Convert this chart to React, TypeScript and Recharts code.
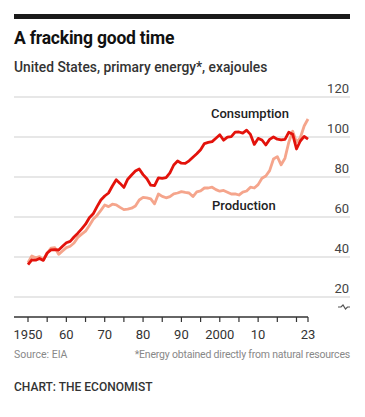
import { LineChart, Line, XAxis, YAxis, ReferenceLine } from "recharts";

// annual values, exajoules, 1950-2023
const firstYear = 1950;

const consumption = [
  36.2, 38.6, 38.4, 39.3, 38.3, 42.0, 43.6, 43.7, 43.5, 45.4,
  47.1, 47.8, 50.0, 51.9, 54.1, 56.4, 59.6, 61.6, 65.2, 68.5,
  70.5, 72.0, 75.5, 78.6, 76.8, 74.8, 78.9, 81.0, 83.0, 84.0,
  81.2, 79.1, 75.9, 75.7, 79.6, 79.3, 79.7, 82.1, 86.0, 88.0,
  86.9, 86.8, 88.1, 89.9, 91.6, 93.6, 96.7, 97.3, 97.7, 99.4,
  101.1, 98.4, 99.9, 100.2, 102.4, 102.5, 101.9, 103.4, 101.3, 96.3,
  99.3, 98.5, 96.0, 98.8, 100.0, 98.9, 98.6, 98.8, 102.4, 101.4,
  94.0, 98.0, 100.3, 98.9,
];

const production = [
  37.1, 40.5, 39.6, 40.2, 38.6, 41.9, 44.4, 44.7, 41.3, 43.0,
  44.7, 45.4, 47.0, 49.8, 51.4, 52.9, 55.8, 58.9, 60.8, 63.3,
  66.0, 65.2, 66.4, 66.1, 64.8, 63.7, 63.9, 64.4, 65.5, 68.5,
  69.8, 69.6, 69.1, 66.6, 71.5, 70.3, 69.6, 70.2, 71.6, 72.0,
  72.7, 72.3, 72.0, 70.2, 72.6, 73.1, 74.5, 74.5, 74.9, 73.7,
  72.9, 73.3, 72.4, 71.5, 71.6, 71.0, 72.4, 73.0, 74.9, 74.5,
  76.2, 79.4, 80.5, 83.2, 89.0, 90.2, 86.1, 89.4, 97.4, 102.9,
  97.4, 99.6, 105.5, 109.0,
];

const xTicks = [1950, 1955, 1960, 1965, 1970, 1975, 1980, 1985, 1990, 1995, 2000, 2005, 2010, 2015, 2020, 2023];
const xTickLabels: Record<number, string> = {
  1950: "1950", 1960: "60", 1970: "70", 1980: "80", 1990: "90", 2000: "2000", 2010: "10", 2023: "23",
};
const yTicks = [20, 40, 60, 80, 100, 120];
const yBreak = 15;

const data = consumption.map((c, i) => ({
  year: firstYear + i,
  consumption: c,
  production: production[i],
}));

const font = "Roboto, 'Noto Sans', sans-serif";
const red = "#e3120b";
const pink = "#f5a58c";

function XTick({ x, y, payload }: any) {
  const label = xTickLabels[payload.value];
  return (
    <g>
      <line x1={x} x2={x} y1={y} y2={y + 5} stroke="#333" strokeWidth={1.2} />
      {label && (
        <text x={x} y={y + 22} textAnchor="middle" fontSize={13} fill="#333" fontFamily={font}>
          {label}
        </text>
      )}
    </g>
  );
}

function YLabel({ viewBox, value }: any) {
  const right = viewBox.x + viewBox.width - 1;
  return (
    <text x={right} y={viewBox.y - 4} textAnchor="end" fontSize={13} fill="#444" fontFamily={font}>
      {value}
    </text>
  );
}

function BreakMark({ viewBox }: any) {
  const r = viewBox.x + viewBox.width;
  const y = viewBox.y;
  return (
    <path
      d={`M${r - 12} ${y} L${r - 9} ${y} L${r - 7} ${y - 2} L${r - 4.5} ${y + 2} L${r - 2.5} ${y} L${r} ${y}`}
      fill="none"
      stroke="#555"
      strokeWidth={1.2}
    />
  );
}

const abs = (left: number, top: number, extra: any) => ({
  position: "absolute" as const,
  left,
  top,
  lineHeight: 1,
  fontFamily: font,
  whiteSpace: "nowrap" as const,
  ...extra,
});

export default function App() {
  return (
    <div style={{ position: "absolute", left: 0, top: 0, width: 365, height: 417, background: "#fff", overflow: "hidden" }}>
      <div style={{ position: "absolute", left: 14, top: 14, width: 336, height: 5, background: "#1a1a1a" }} />
      <div style={abs(14, 30, { fontSize: 17.5, fontWeight: 700, color: "#111", letterSpacing: -0.2 })}>
        A fracking good time
      </div>
      <div style={abs(14, 60.5, { fontSize: 13.8, fontWeight: 500, color: "#333" })}>
        United States, primary energy*, exajoules
      </div>

      <LineChart width={365} height={417} data={data} margin={{ top: 87, right: 15, bottom: 70, left: 14 }}>
        {yTicks.map((t) => (
          <ReferenceLine key={t} y={t} stroke="#cfcfcf" strokeWidth={1} label={<YLabel value={t} />} />
        ))}
        <ReferenceLine y={yBreak} stroke="none" label={<BreakMark />} />
        <ReferenceLine
          segment={[
            { x: 1946.35, y: 10 },
            { x: 2023, y: 10 },
          ]}
          stroke="#333"
          strokeWidth={1.5}
        />
        <XAxis
          dataKey="year"
          type="number"
          domain={[1946.35, 2033.95]}
          ticks={xTicks}
          axisLine={false}
          tickLine={false}
          tickSize={0}
          tickMargin={0}
          height={30}
          tick={<XTick />}
          interval={0}
        />
        <YAxis domain={[10, 125]} hide />
        <Line
          dataKey="production"
          type="linear"
          stroke={pink}
          strokeWidth={2.8}
          dot={false}
          strokeLinejoin="round"
          isAnimationActive={false}
        />
        <Line
          dataKey="consumption"
          type="linear"
          stroke={red}
          strokeWidth={2.8}
          dot={false}
          strokeLinejoin="round"
          isAnimationActive={false}
        />
      </LineChart>

      <div style={abs(211, 106.5, { fontSize: 13, fontWeight: 500, color: "#222" })}>Consumption</div>
      <div style={abs(212, 199, { fontSize: 13, fontWeight: 500, color: "#222" })}>Production</div>

      <div style={abs(14, 350, { fontSize: 10.5, color: "#888" })}>Source: EIA</div>
      <div style={abs(0, 350, { fontSize: 10.5, color: "#888", left: "auto", right: 15, letterSpacing: -0.2 })}>
        *Energy obtained directly from natural resources
      </div>
      <div style={abs(14, 381, { fontSize: 12, fontWeight: 500, color: "#333" })}>CHART: THE ECONOMIST</div>
    </div>
  );
}
